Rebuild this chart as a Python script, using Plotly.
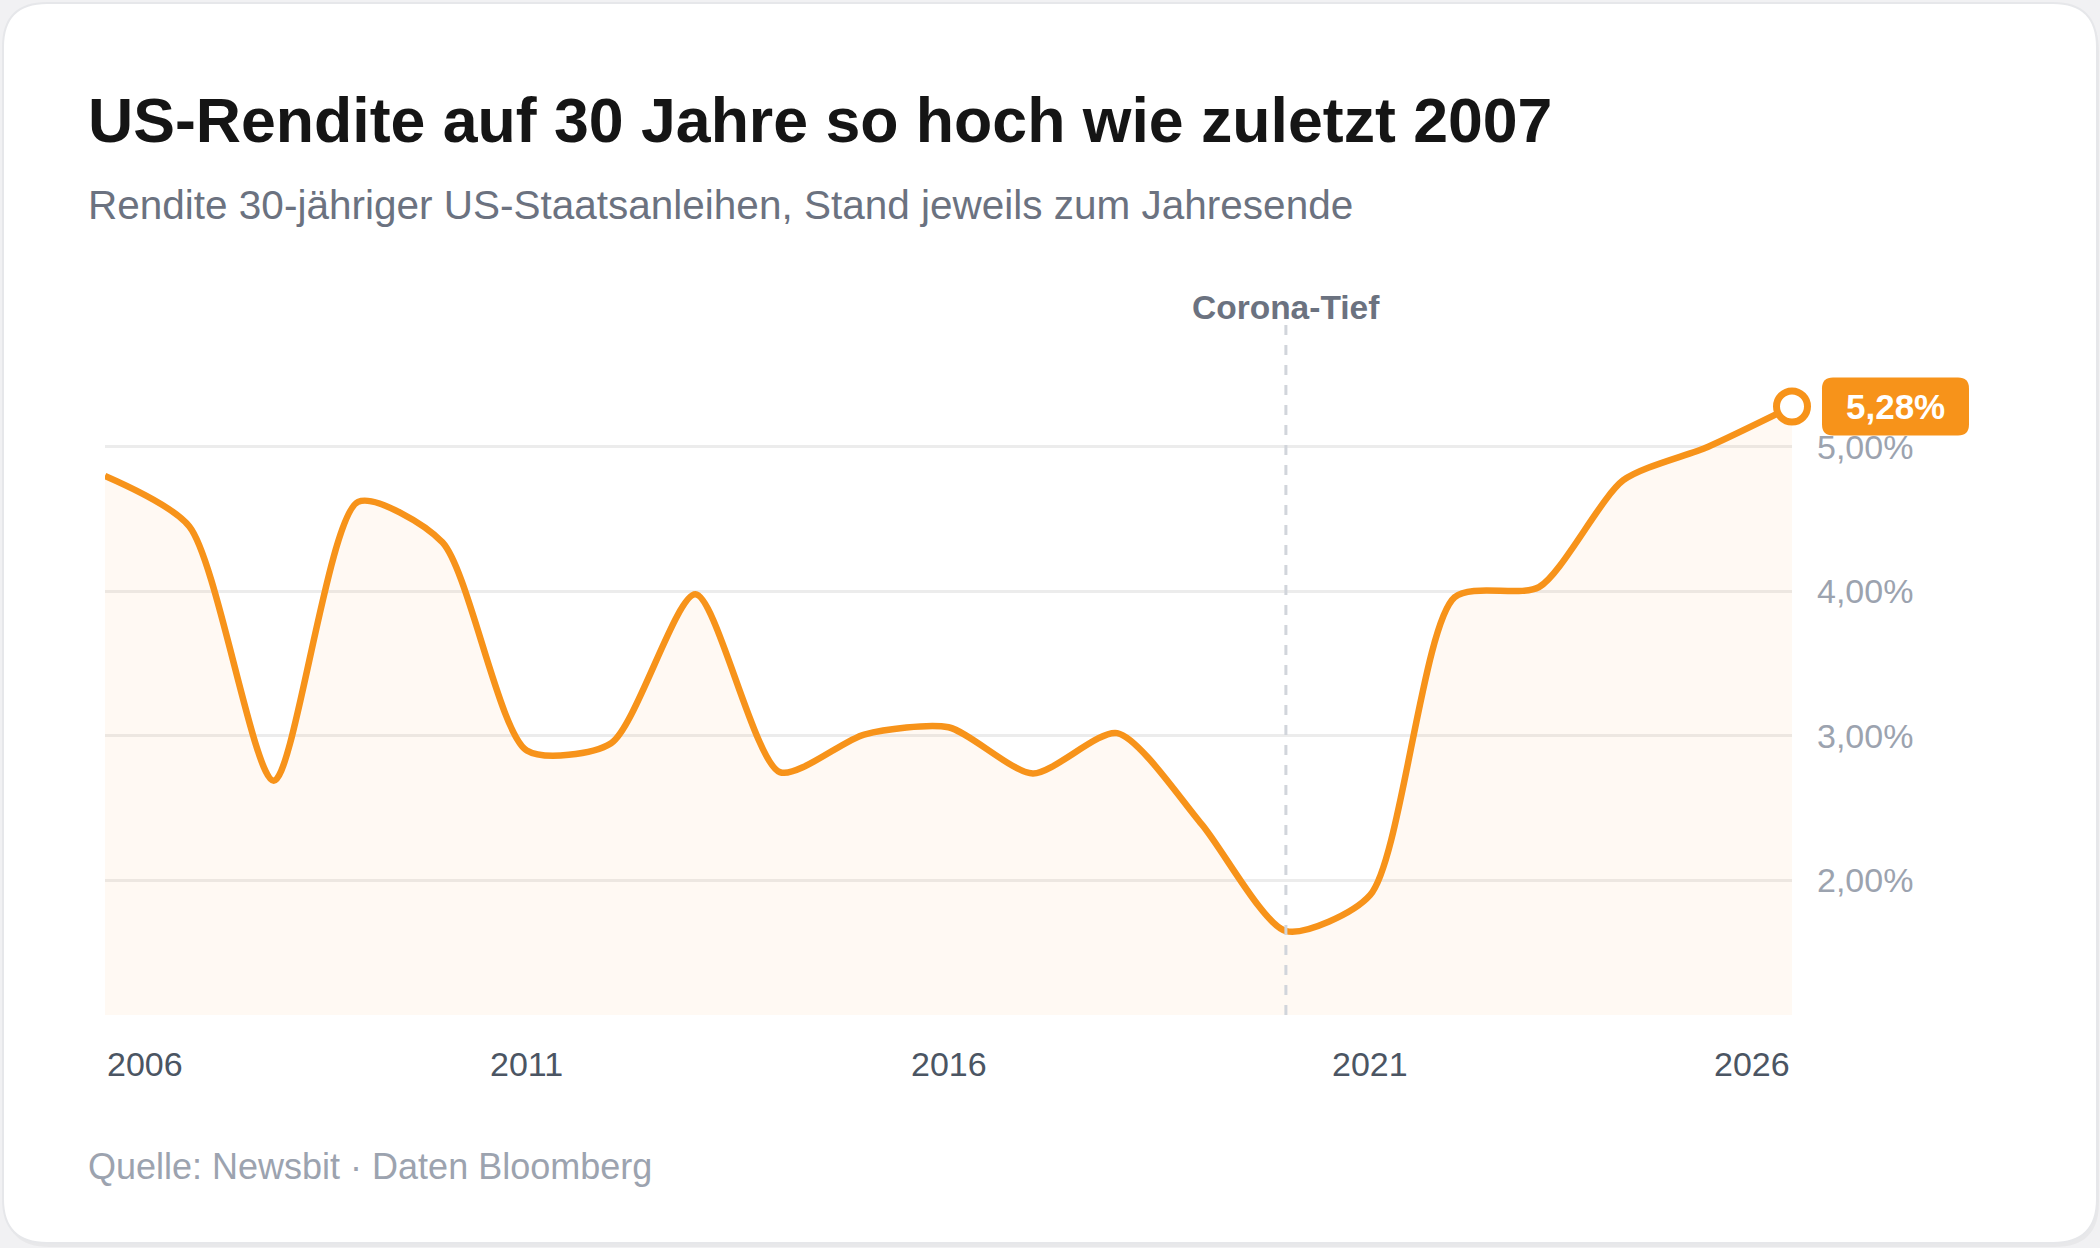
import plotly.graph_objects as go

# ---------------- data ----------------
years = [2006, 2007, 2008, 2009, 2010, 2011, 2012, 2013, 2014, 2015, 2016,
         2017, 2018, 2019, 2020, 2021, 2022, 2023, 2024, 2025, 2026]
yields = [4.80, 4.45, 2.69, 4.62, 4.34, 2.90, 2.95, 3.98, 2.75, 3.01, 3.06,
          2.74, 3.02, 2.39, 1.65, 1.90, 3.96, 4.03, 4.77, 5.00, 5.28]
y_tick_vals = [2, 3, 4, 5]
y_tick_text = ["2,00%", "3,00%", "4,00%", "5,00%"]
x_tick_vals = [2006, 2011, 2016, 2021, 2026]
x_tick_text = ["2006", "2011", "2016", "2021", "2026"]
event_year = 2020
event_label = "Corona-Tief"
last_label = "5,28%"

title = "US-Rendite auf 30 Jahre so hoch wie zuletzt 2007"
subtitle = "Rendite 30-jähriger US-Staatsanleihen, Stand jeweils zum Jahresende"
source = "Quelle: Newsbit · Daten Bloomberg"

# ---------------- style ----------------
W, H = 2100, 1248
ML, MR, MT, MB = 105, 308, 322, 233
PW, PH = W - ML - MR, H - MT - MB
ORANGE = "#F7931A"
FONT = "Liberation Sans, Arial, Helvetica, sans-serif"

x_range = [years[0], years[-1]]
y_bottom = 1.069
y_top = y_bottom + PH / 144.5


def px(x):
    return (x - ML) / PW


def py(y):
    return 1 - (y - MT) / PH


def rounded_rect(x0, y0, x1, y1, r, conv_x=lambda v: v, conv_y=lambda v: v):
    pts = [
        ("M", [(x0 + r, y0)]),
        ("L", [(x1 - r, y0)]),
        ("Q", [(x1, y0), (x1, y0 + r)]),
        ("L", [(x1, y1 - r)]),
        ("Q", [(x1, y1), (x1 - r, y1)]),
        ("L", [(x0 + r, y1)]),
        ("Q", [(x0, y1), (x0, y1 - r)]),
        ("L", [(x0, y0 + r)]),
        ("Q", [(x0, y0), (x0 + r, y0)]),
    ]
    s = ""
    for cmd, ps in pts:
        s += cmd + " " + " ".join(f"{conv_x(a):.6f},{conv_y(b):.6f}" for a, b in ps) + " "
    return s + "Z"


fig = go.Figure()

fig.add_trace(go.Scatter(
    x=years, y=yields, mode="lines",
    line=dict(color=ORANGE, width=6.5, shape="spline", smoothing=0.7),
    fill="tozeroy", fillcolor="rgba(247,147,26,0.05)",
    hoverinfo="skip", showlegend=False,
))
fig.add_trace(go.Scatter(
    x=[years[-1]], y=[yields[-1]], mode="markers",
    marker=dict(size=31, color="white", line=dict(color=ORANGE, width=7)),
    cliponaxis=False, hoverinfo="skip", showlegend=False,
))

# paper-fraction anchor of the last point (via the axis ranges)
last_xp = (years[-1] - x_range[0]) / (x_range[1] - x_range[0])
last_yp = (yields[-1] - y_bottom) / (y_top - y_bottom)

shapes = []
# card shadow + card
shapes.append(dict(type="path", xref="paper", yref="paper", layer="below",
                   path=rounded_rect(5, 7, 2099, 1247, 44, px, py),
                   fillcolor="rgba(0,0,0,0.035)", line=dict(width=0)))
shapes.append(dict(type="path", xref="paper", yref="paper", layer="below",
                   path=rounded_rect(3, 3, 2097, 1243, 44, px, py),
                   fillcolor="white", line=dict(color="#e6e7ea", width=2)))
# event line
shapes.append(dict(type="line", xref="x", yref="paper", x0=event_year, x1=event_year,
                   y0=0, y1=1, line=dict(color="#d1d5db", width=3, dash="10px,10px"),
                   layer="above"))
# value badge
shapes.append(dict(type="path", xref="paper", yref="paper", xsizemode="pixel", ysizemode="pixel",
                   xanchor=last_xp, yanchor=last_yp,
                   path=rounded_rect(30, -29, 177, 29, 11),
                   fillcolor=ORANGE, line=dict(width=0), layer="above"))

annotations = []
annotations.append(dict(text=f"<b>{title}</b>", xref="paper", yref="paper",
                        x=px(86), y=py(119.5), xanchor="left", yanchor="middle",
                        showarrow=False, font=dict(family=FONT, size=62.6, color="#151515")))
annotations.append(dict(text=subtitle, xref="paper", yref="paper",
                        x=px(86), y=py(205), xanchor="left", yanchor="middle",
                        showarrow=False, font=dict(family=FONT, size=40.5, color="#6b7280")))
annotations.append(dict(text=source, xref="paper", yref="paper",
                        x=px(86), y=py(1166.5), xanchor="left", yanchor="middle",
                        showarrow=False, font=dict(family=FONT, size=36, color="#9ca3af")))
annotations.append(dict(text=f"<b>{event_label}</b>", xref="x", yref="paper",
                        x=event_year, y=py(307.5), xanchor="center", yanchor="middle",
                        showarrow=False, font=dict(family=FONT, size=33.5, color="#6b7280")))
annotations.append(dict(text=f"<b>{last_label}</b>", xref="x", yref="y",
                        x=years[-1], y=yields[-1], xshift=103.5, xanchor="center",
                        yanchor="middle", showarrow=False,
                        font=dict(family=FONT, size=35, color="white")))
for i, (v, t) in enumerate(zip(x_tick_vals, x_tick_text)):
    anchor = "left" if i == 0 else ("right" if i == len(x_tick_vals) - 1 else "center")
    annotations.append(dict(text=t, xref="x", yref="paper", x=v, y=py(1064),
                            xanchor=anchor, yanchor="middle", showarrow=False,
                            font=dict(family=FONT, size=34, color="#4b5563")))

fig.update_layout(
    width=W, height=H,
    margin=dict(l=ML, r=MR, t=MT, b=MB, pad=0),
    paper_bgcolor="#f1f1f3", plot_bgcolor="rgba(0,0,0,0)",
    font=dict(family=FONT),
    shapes=shapes, annotations=annotations,
    xaxis=dict(range=x_range, showgrid=False, zeroline=False,
               showticklabels=False, ticks="", showline=False, fixedrange=True),
    yaxis=dict(range=[y_bottom, y_top], side="right", tickvals=y_tick_vals,
               ticktext=y_tick_text, showgrid=True, gridcolor="#ececec", gridwidth=2.5,
               zeroline=False, showline=False, ticks="", ticklabelstandoff=24,
               tickfont=dict(family=FONT, size=34, color="#9ca3af"), fixedrange=True),
    showlegend=False,
)

fig.write_html(
    "out.html",
    config={"displayModeBar": False},
    post_script="document.body.style.margin='0';document.body.style.overflow='hidden';",
)
